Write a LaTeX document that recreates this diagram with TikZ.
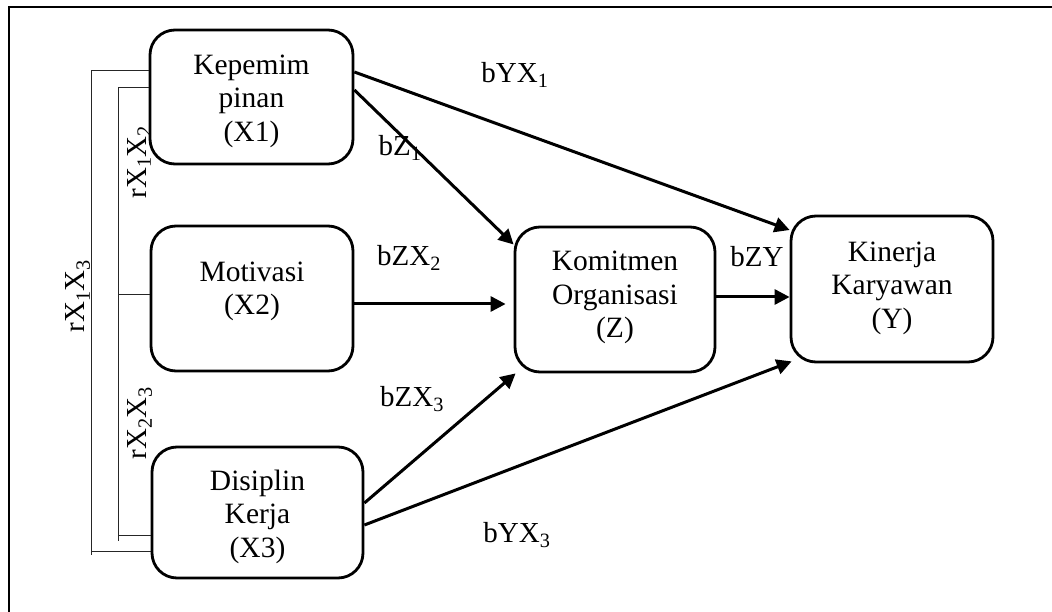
\documentclass[tikz,border=0pt]{standalone}
\usepackage{fontspec}
\setmainfont{Liberation Serif}
\usetikzlibrary{arrows.meta}
\begin{document}
\begin{tikzpicture}[x=1pt,y=-1pt,
  box/.style={draw,line width=2.8pt,rounded corners=25pt,inner sep=0pt},
  txt/.style={align=center,inner sep=0pt,font=\fontsize{29.5}{33.5}\selectfont},
  lbl/.style={inner sep=0pt,font=\fontsize{29}{33}\selectfont},
  arr/.style={line width=3pt,-{Triangle[length=15pt,width=15pt]}},
  brk/.style={line width=1pt,black!85}]
\useasboundingbox (0,0) rectangle (1052,612);
\draw[line width=2.2pt] (9,612) -- (9,7) -- (1052,7);
% boxes
\node[box,minimum width=203pt,minimum height=134pt] (X1) at (251.5,97) {};
\node[box,minimum width=202pt,minimum height=145pt] (X2) at (252,298.5) {};
\node[box,minimum width=211pt,minimum height=131pt] (X3) at (257.5,512.5) {};
\node[box,minimum width=200pt,minimum height=145pt] (Z) at (615,299.5) {};
\node[box,minimum width=202pt,minimum height=146pt] (Y) at (892,289) {};
\node[txt] (X1t) at ([yshift=-4pt]X1.center) {Kepemim\\pinan\\(X1)};
\node[txt] (X2t) at ([yshift=7pt]X2.center) {Motivasi\\(X2)};
\node[txt] (X3t) at ([yshift=-4pt]X3.center) {Disiplin\\Kerja\\(X3)};
\node[txt] (Zt) at ([yshift=2pt]Z.center) {Komitmen\\Organisasi\\(Z)};
\node[txt] (Yt) at ([yshift=1pt]Y.center) {Kinerja\\Karyawan\\(Y)};
% arrows
\draw[arr] ([yshift=25pt]X1.east) -- ([yshift=59pt]Y.west);
\draw[arr] ([yshift=7pt]X1.east) -- ([yshift=55pt]Z.west);
\draw[arr] ([yshift=-5.5pt]X2.east) -- ([xshift=-8pt,yshift=-4.5pt]Z.west);
\draw[arr] ([yshift=2.5pt]Z.east) -- ([yshift=-8pt]Y.west);
\draw[arr] ([yshift=9.5pt]X3.east) -- ([xshift=2pt]Z.south west);
\draw[arr] ([yshift=-12.5pt]X3.east) -- ([xshift=2pt,yshift=2pt]Y.south west);
% brackets
\coordinate (o1) at (91,71);
\coordinate (o2) at (91,555);
\coordinate (o3) at (91,551);
\coordinate (i1) at (118,88);
\coordinate (i2) at (118,541);
\coordinate (i3) at (118,295);
\coordinate (i4) at (118,535);
\draw[brk] ([yshift=26pt]X1.west) -- (o1) -- (o2);
\draw[brk] (o3) -- ([yshift=-38.5pt]X3.west);
\draw[brk] ([yshift=9pt]X1.west) -- (i1) -- (i2);
\draw[brk] (i3) -- ([yshift=3.5pt]X2.west);
\draw[brk] (i4) -- ([yshift=-22.5pt]X3.west);
% labels
\node[lbl,rotate=90] (r12) at (139,162) {rX\textsubscript{1}X\textsubscript{2}};
\node[lbl,rotate=90] (r23) at (140,423) {rX\textsubscript{2}X\textsubscript{3}};
\node[lbl,rotate=90] (r13) at (78,296) {rX\textsubscript{1}X\textsubscript{3}};
\node[lbl] (l1) at (515,75) {bYX\textsubscript{1}};
\node[lbl] (l2) at (400,148) {bZ\textsubscript{1}};
\node[lbl] (l3) at (409,258) {bZX\textsubscript{2}};
\node[lbl] (l4) at (412,399) {bZX\textsubscript{3}};
\node[lbl] (l5) at (757,257) {bZY};
\node[lbl] (l6) at (517,535) {bYX\textsubscript{3}};
\end{tikzpicture}
\end{document}
